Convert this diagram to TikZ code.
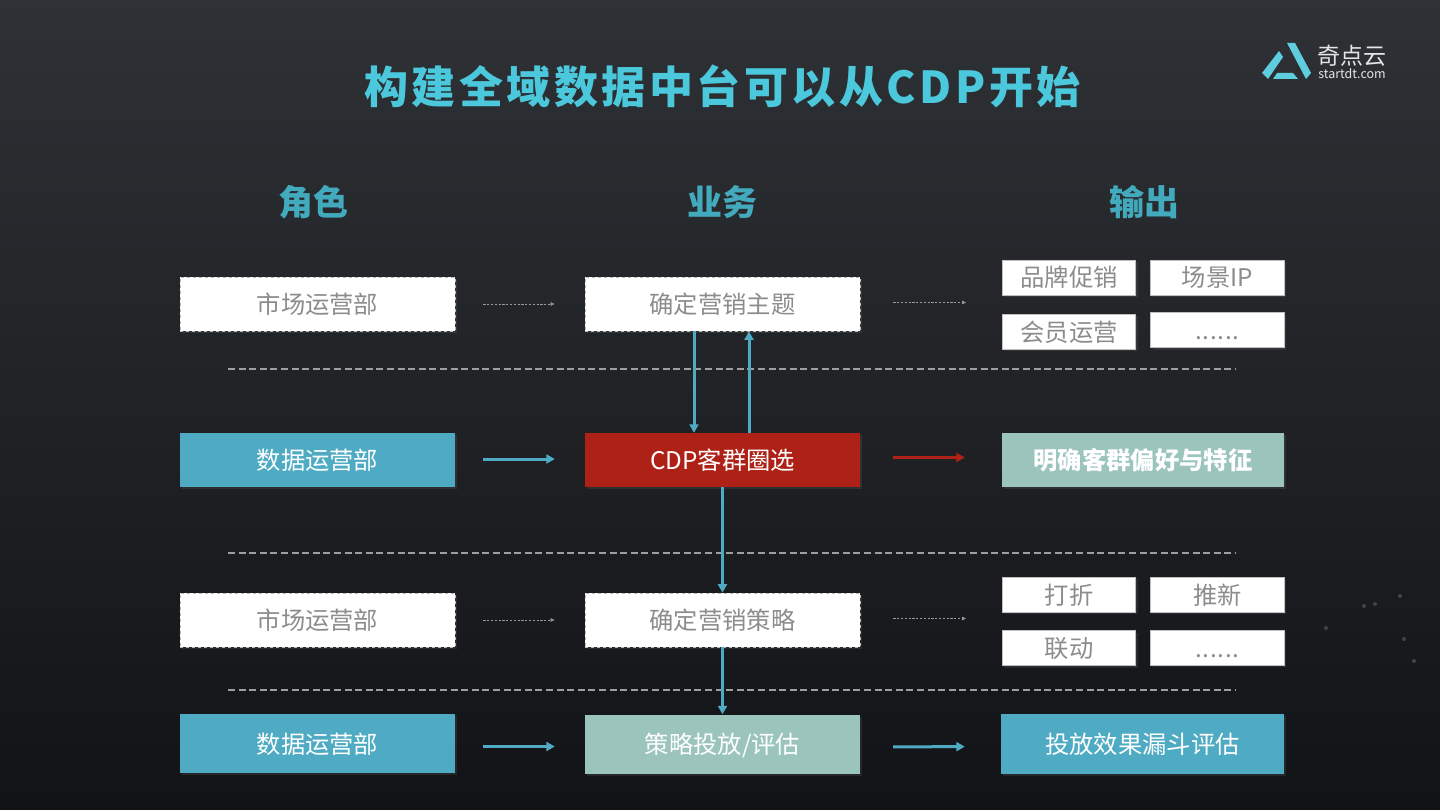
\documentclass[tikz,border=0pt]{standalone}
\usepackage{xcolor}
\usepackage{fontspec}
\setmainfont{Noto Sans CJK SC}
\usepackage{tikz}
\usetikzlibrary{arrows.meta,shadows}
\definecolor{bgtop}{HTML}{2E3135}
\definecolor{bgbottom}{HTML}{121316}
\definecolor{titlecyan}{HTML}{4CC8DC}
\definecolor{headcyan}{HTML}{42AABC}
\definecolor{boxteal}{HTML}{4FABC3}
\definecolor{boxsage}{HTML}{9BC4BC}
\definecolor{boxred}{HTML}{AE2116}
\definecolor{textgray}{HTML}{8C8C8C}

\begin{document}
\begin{tikzpicture}[
            x=1pt, y=-1pt,
            head/.style={font=\fontsize{35}{35}\selectfont\bfseries, text=headcyan},
            box/.style={rectangle, minimum width=275pt, minimum height=54pt, inner sep=0pt,
            text height=22pt, text depth=3pt,
            font=\fontsize{24.3}{24.3}\selectfont, drop shadow={opacity=0.18, shadow xshift=2pt, shadow yshift=-2pt}},
            plainbox/.style={box, fill=white, draw=gray!55, dashed, line width=0.8pt, text=textgray},
            tealbox/.style={box, fill=boxteal, text=white},
            sagebox/.style={box, fill=boxsage, text=white},
            redbox/.style={box, fill=boxred, text=white},
            tagbox/.style={box, solid, fill=white, draw=gray!50, line width=0.6pt, text=textgray,
            minimum width=133.5pt, minimum height=35pt},
            flow/.style={line width=3pt, boxteal, -{Triangle[length=8.5pt, width=9pt]}},
            sideflow/.style={flow, shorten <=28pt, shorten >=30pt},
            faint/.style={line width=0.7pt, gray!80, dash pattern=on 2.2pt off 1.6pt,
            -{Triangle[length=4pt, width=3.5pt]}, shorten <=28pt, shorten >=30pt},
            rule/.style={line width=1.3pt, gray!75, dash pattern=on 7pt off 3.6pt},
        ]

            % background
            \shade[top color=bgtop, bottom color=bgbottom] (0,0) rectangle (1440,810);
            \useasboundingbox (0,0) rectangle (1440,810);
            \foreach \dotx/\doty in {1364/606, 1375/604, 1400/596, 1326/628, 1404/639, 1414/661} {
                \fill[white, opacity=0.18] (\dotx,\doty) circle (2);
            }

            %% Title and logo
            \node[font=\fontsize{44}{44}\selectfont\bfseries\addfontfeatures{LetterSpace=8}, text=titlecyan] (title) at (722.5,86) {构建全域数据中台可以从CDP开始};
            \fill[titlecyan!90!white] (1262,73) -- (1279,51) -- (1283,57) -- (1268,79) -- cycle;
            \fill[titlecyan!90!white] (1287,43) -- (1295,43) -- (1311,73) -- (1306,79) -- cycle;
            \fill[titlecyan!90!white] (1273,79) -- (1277,73) -- (1293,73) -- (1298,79) -- cycle;
            \node[font=\fontsize{23}{23}\selectfont, text=white!90!black, inner sep=0pt] (logoname) at (1352,56) {奇点云};
            \node[font=\fontsize{12.5}{12.5}\selectfont, text=white!90!black, inner sep=0pt] (logourl) at (1352,73.5) {startdt.com};

            %% Column heads
            \node[head] (headrole) at (313,202) {角色};
            \node[head] (headtask) at (722,202) {业务};
            \node[head] (headout)  at (1144,202) {输出};

            %% Separators
            \foreach \sepy in {369,553,690} {
                \draw[rule] (228,\sepy) -- (1236,\sepy);
            }

            %% Row 1
            \node[plainbox] (role1) at (317.5,304) {市场运营部};
            \node[plainbox] (task1) at (722.5,304) {确定营销主题};
            \node[tagbox] (tag1a) at (1069,277.5) {品牌促销};
            \node[tagbox] (tag1b) at (1217.5,277.5) {场景IP};
            \node[tagbox] (tag1c) at (1069,331.5) {会员运营};
            \node[tagbox, font=\fontsize{24.3}{24.3}\selectfont\addfontfeatures{LetterSpace=3}] (tag1d) at (1217.5,330) {......};
            \coordinate (out1) at (1002,302.5);

            %% Row 2
            \node[tealbox] (role2) at (317.5,460) {数据运营部};
            \node[redbox]  (task2) at (722.5,460) {CDP客群圈选};
            \node[sagebox, minimum width=282pt, font=\fontsize{24.3}{24.3}\selectfont\bfseries] (out2) at (1143,459.5) {明确客群偏好与特征};

            %% Row 3
            \node[plainbox] (role3) at (317.5,620) {市场运营部};
            \node[plainbox] (task3) at (722.5,620) {确定营销策略};
            \node[tagbox] (tag3a) at (1069,594.5) {打折};
            \node[tagbox] (tag3b) at (1217.5,594.5) {推新};
            \node[tagbox] (tag3c) at (1069,648) {联动};
            \node[tagbox, font=\fontsize{24.3}{24.3}\selectfont\addfontfeatures{LetterSpace=3}] (tag3d) at (1217.5,647.5) {......};
            \coordinate (out3) at (1002,618.5);

            %% Row 4
            \node[tealbox, minimum height=59pt] (role4) at (317.5,743.5) {数据运营部};
            \node[sagebox, minimum height=59pt] (task4) at (722.5,744) {策略投放/评估};
            \node[tealbox, minimum width=283pt, minimum height=60pt] (out4) at (1142.5,743.5) {投放效果漏斗评估};

            %% Arrows between the columns
            \draw[faint] (role1.east) -- (task1.west);
            \draw[faint, shorten <=33pt, shorten >=36pt] (task1.east |- out1) -- (out1);
            \draw[sideflow] ([yshift=1pt]role2.east) -- ([yshift=1pt]task2.west);
            \draw[sideflow, boxred, shorten <=33pt, shorten >=37pt] ([yshift=2.5pt]task2.east) -- ([yshift=2pt]out2.west);
            \draw[faint] (role3.east) -- (task3.west);
            \draw[faint, shorten <=33pt, shorten >=36pt] (task3.east |- out3) -- (out3);
            \draw[sideflow] ([yshift=-3pt]role4.east) -- ([yshift=-2.5pt]task4.west);
            \draw[sideflow, shorten <=33pt, shorten >=36pt] ([yshift=-3pt]task4.east) -- ([yshift=-3pt]out4.west);

            %% Arrows between the rows
            \draw[flow] ([xshift=-28.5pt]task1.south) -- ([xshift=-28.5pt]task2.north);
            \draw[flow] ([xshift=26.5pt]task2.north) -- ([xshift=26.5pt]task1.south);
            \draw[flow] (task2.south) -- (task3.north);
            \draw[flow] (task3.south) -- (task4.north);

        \end{tikzpicture}
\end{document}
